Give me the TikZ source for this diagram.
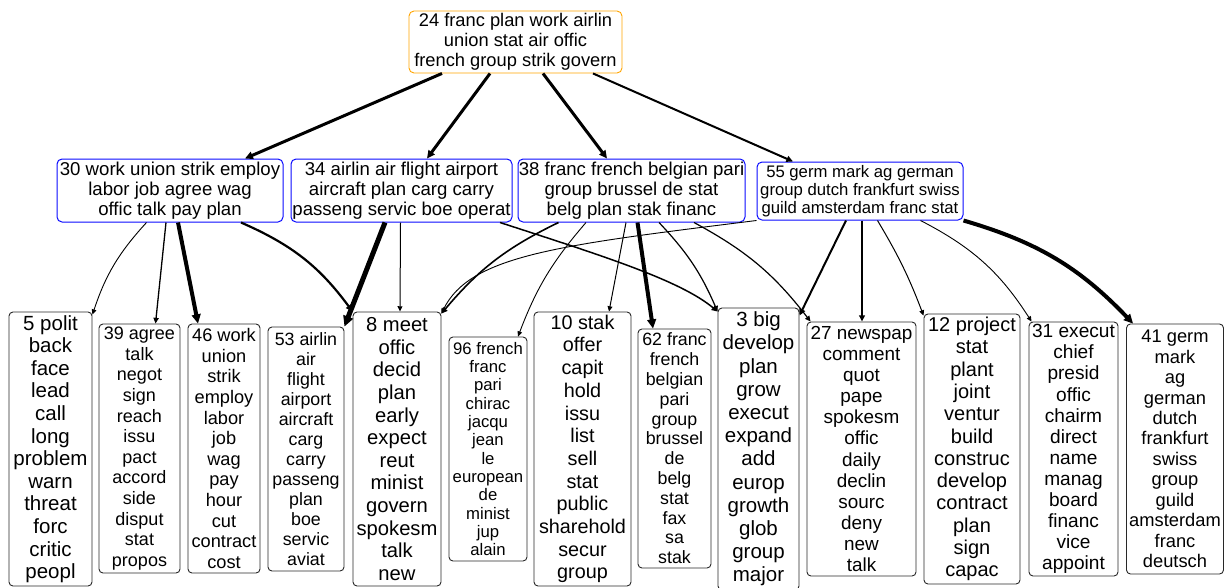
\documentclass[tikz,border=0pt]{standalone}
\usepackage{fontspec}
\setmainfont{Liberation Sans}
\usetikzlibrary{arrows.meta}
\newcommand\setfs[2]{\fontsize{#1}{#2}\selectfont}
\definecolor{orangeb}{RGB}{255,165,0}
\definecolor{blueb}{RGB}{10,10,255}
\definecolor{leafb}{RGB}{40,40,40}
\tikzset{
  box/.style={draw, rounded corners=4pt, inner sep=0pt, align=center, line width=0.9pt},
  topbox/.style={box, draw=orangeb, rounded corners=5pt},
  midbox/.style={box, draw=blueb, rounded corners=5pt, line width=1pt},
  leaf/.style={box, draw=leafb},
  conn/.style={-{Triangle[length=4pt 1.3,width=3.5pt 1.3]}, black},
}
\begin{document}
\begin{tikzpicture}[x=1pt,y=-1pt]
\useasboundingbox (0,0) rectangle (1224,587);
\fill[white] (0,0) rectangle (1224,587);

% top
\node[topbox, minimum width=213, minimum height=62, font=\setfs{18.3}{20}] (n24) at (515.5,42)
  {24 franc plan work airlin\\union stat air offic\\french group strik govern};

% middle
\node[midbox, minimum width=226, minimum height=63, font=\setfs{18.6}{20}] (n30) at (170,190.5)
  {30 work union strik employ\\labor job agree wag\\offic talk pay plan};
\node[midbox, minimum width=221, minimum height=63, font=\setfs{18.6}{20}] (n34) at (401.5,190.5)
  {34 airlin air flight airport\\aircraft plan carg carry\\passeng servic boe operat};
\node[midbox, minimum width=227, minimum height=63, font=\setfs{18.6}{20}] (n38) at (631.5,190.5)
  {38 franc french belgian pari\\group brussel de stat\\belg plan stak financ};
\node[midbox, minimum width=206, minimum height=58, font=\setfs{16.7}{18.3}] (n55) at (860,191)
  {55 germ mark ag german\\group dutch frankfurt swiss\\guild amsterdam franc stat};

% leaves
\node[leaf, minimum width=83, minimum height=274, font=\setfs{20.5}{22.6}] (n5) at (50.5,449)
  {5 polit\\back\\face\\lead\\call\\long\\problem\\warn\\threat\\forc\\critic\\peopl};
\node[leaf, minimum width=81, minimum height=249, font=\setfs{18}{20.6}] (n39) at (139.5,448.5)
  {39 agree\\talk\\negot\\sign\\reach\\issu\\pact\\accord\\side\\disput\\stat\\propos};
\node[leaf, minimum width=72, minimum height=249, font=\setfs{18.2}{20.6}] (n46) at (224,448.5)
  {46 work\\union\\strik\\employ\\labor\\job\\wag\\pay\\hour\\cut\\contract\\cost};
\node[leaf, minimum width=76, minimum height=244, font=\setfs{17.8}{20}] (n53) at (306,449)
  {53 airlin\\air\\flight\\airport\\aircraft\\carg\\carry\\passeng\\plan\\boe\\servic\\aviat};
\node[leaf, minimum width=88, minimum height=274, font=\setfs{20.2}{22.6}] (n8) at (397,449)
  {8 meet\\offic\\decid\\plan\\early\\expect\\reut\\minist\\govern\\spokesm\\talk\\new};
\node[leaf, minimum width=78, minimum height=224, font=\setfs{16.7}{18.3}] (n96) at (488,449)
  {96 french\\franc\\pari\\chirac\\jacqu\\jean\\le\\european\\de\\minist\\jup\\alain};
\node[leaf, minimum width=97, minimum height=274, font=\setfs{19.8}{22.7}] (n10) at (582.5,449)
  {10 stak\\offer\\capit\\hold\\issu\\list\\sell\\stat\\public\\sharehold\\secur\\group};
\node[leaf, minimum width=73, minimum height=239, font=\setfs{17.8}{19.8}] (n62) at (674.5,448.5)
  {62 franc\\french\\belgian\\pari\\group\\brussel\\de\\belg\\stat\\fax\\sa\\stak};
\node[leaf, minimum width=81, minimum height=282, font=\setfs{20.5}{23.2}] (n3) at (758.5,449)
  {3 big\\develop\\plan\\grow\\execut\\expand\\add\\europ\\growth\\glob\\group\\major};
\node[leaf, minimum width=109, minimum height=254, font=\setfs{18.9}{21.06}] (n27) at (861.5,449)
  {27 newspap\\comment\\quot\\pape\\spokesm\\offic\\daily\\declin\\sourc\\deny\\new\\talk};
\node[leaf, minimum width=96, minimum height=270, font=\setfs{20}{22.3}] (n12) at (972,449)
  {12 project\\stat\\plant\\joint\\ventur\\build\\construc\\develop\\contract\\plan\\sign\\capac};
\node[leaf, minimum width=89, minimum height=254, font=\setfs{19.1}{21.06}] (n31) at (1073.5,449)
  {31 execut\\chief\\presid\\offic\\chairm\\direct\\name\\manag\\board\\financ\\vice\\appoint};
\node[leaf, minimum width=97, minimum height=250, font=\setfs{18.3}{20.45}] (n41) at (1175,449)
  {41 germ\\mark\\ag\\german\\dutch\\frankfurt\\swiss\\group\\guild\\amsterdam\\franc\\deutsch};

% edges from 24
\draw[conn, line width=3] ([xshift=-73.5]n24.south) -- ([xshift=75]n30.north);
\draw[conn, line width=3] ([xshift=-25.5]n24.south) -- ([xshift=25.5]n34.north);
\draw[conn, line width=3] ([xshift=27.5]n24.south) -- ([xshift=-24.5]n38.north);
\draw[conn, line width=2] ([xshift=77.5]n24.south) -- ([xshift=-67]n55.north);

% edges from 30
\draw[conn, line width=0.9] ([xshift=-23.5]n30.south) to[bend right=12] ([yshift=-3]n5.north east);
\draw[conn, line width=1.3] ([xshift=-4]n30.south) -- ([xshift=16]n39.north);
\draw[conn, line width=4] ([xshift=8]n30.south) -- ([xshift=-26]n46.north);
\draw[conn, line width=2.2] ([xshift=71]n30.south) to[bend left=15] (n8.north west);

% edges from 34
\draw[conn, line width=5] ([xshift=-16.5]n34.south) -- (n53.north east);
\draw[conn, line width=1] ([xshift=-1]n34.south) -- ([xshift=3]n8.north);
\draw[conn, line width=1.5] ([xshift=98.5]n34.south) .. controls (600,255) and (680,280) .. ([yshift=-4]n3.north west);

% edges from 38
\draw[conn, line width=1.6] ([xshift=-73]n38.south) to[bend right=12] ([yshift=-2]n8.north east);
\draw[conn, line width=0.9] ([xshift=-45.5]n38.south) to[bend right=10] ([xshift=30]n96.north);
\draw[conn, line width=1] ([xshift=-5.5]n38.south) -- ([xshift=26.5]n10.north);
\draw[conn, line width=4] ([xshift=6]n38.south) -- ([xshift=-21.5]n62.north);
\draw[conn, line width=1.2] ([xshift=27.5]n38.south) to[bend left=10] ([yshift=-4]n3.north west);
\draw[conn, line width=1.2] ([xshift=62.5]n38.south) to[bend left=12] ([xshift=4]n27.north west);

% edges from 55
\draw[conn, line width=0.9] (n55.south west) .. controls (560,245) and (470,255) .. ([yshift=-2]n8.north east);
\draw[conn, line width=2] ([xshift=-14]n55.south) -- ([yshift=-8]n3.north east);
\draw[conn, line width=1.6] ([xshift=2]n55.south) -- ([xshift=0.5]n27.north);
\draw[conn, line width=1] ([xshift=17.5]n55.south) to[bend left=5] ([yshift=-2]n12.north west);
\draw[conn, line width=0.9] ([xshift=60.5]n55.south) to[bend left=15] ([xshift=3]n31.north west);
\draw[conn, line width=4] (n55.south east) to[bend left=15] ([xshift=7]n41.north west);
\end{tikzpicture}
\end{document}
